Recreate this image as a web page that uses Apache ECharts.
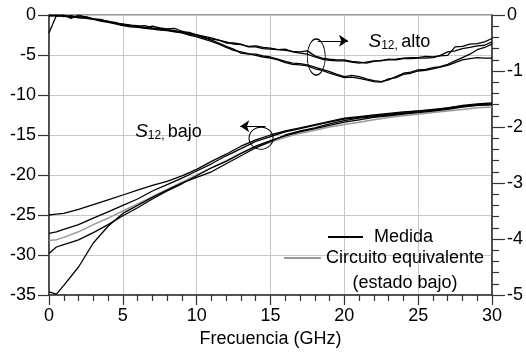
<!DOCTYPE html>
<html>
<head>
<meta charset="utf-8">
<script src="https://cdn.jsdelivr.net/npm/echarts@6/dist/echarts.min.js"></script>
<style>
  html, body { margin: 0; padding: 0; background: #fff; }
  #chart { width: 526px; height: 354px; }
</style>
</head>
<body>
<div id="chart"></div>
<script>
const FONT = "'Liberation Sans', Arial, sans-serif";

// frequency grids (GHz)
const freqLow = [0, 0.5, 1, 2, 3, 4, 5, 6, 7, 8, 9, 10, 11, 12, 13, 14, 15, 16, 17, 18, 19, 20, 21, 22, 23, 24, 25, 26, 27, 28, 29, 30];
const freqHigh = [0, 0.5, 1, 1.5, 2, 2.5, 3, 3.5, 4, 4.5, 5, 5.5, 6, 6.5, 7, 7.5, 8, 8.5, 9, 9.5, 10, 10.5, 11, 11.5, 12, 12.5, 13, 13.5, 14, 14.5, 15, 15.5, 16, 16.5, 17, 17.5, 18, 18.5, 19, 19.5, 20, 20.5, 21, 21.5, 22, 22.5, 23, 23.5, 24, 24.5, 25, 25.5, 26, 26.5, 27, 27.5, 28, 28.5, 29, 29.5, 30];

// S12 estado bajo, medidas (eje izquierdo, dB)
const bajo1 = [-25.0, -24.9, -24.8, -24.3, -23.7, -23.1, -22.5, -21.9, -21.3, -20.8, -20.1, -19.3, -18.3, -17.4, -16.4, -15.6, -15.0, -14.5, -14.1, -13.7, -13.3, -12.9, -12.7, -12.5, -12.3, -12.1, -12.0, -11.8, -11.6, -11.3, -11.1, -11.0];
const bajo2 = [-27.3, -27.1, -26.8, -26.2, -25.4, -24.6, -23.8, -23.0, -22.0, -21.2, -20.4, -19.5, -18.6, -17.6, -16.7, -15.8, -15.2, -14.6, -14.2, -13.8, -13.4, -13.0, -12.8, -12.6, -12.4, -12.2, -12.0, -11.9, -11.6, -11.4, -11.2, -11.1];
const bajo3 = [-29.8, -29.0, -28.7, -28.1, -27.2, -26.2, -25.1, -24.1, -23.0, -22.0, -21.1, -20.1, -19.1, -18.3, -17.3, -16.4, -15.7, -15.1, -14.6, -14.2, -13.8, -13.4, -13.1, -12.8, -12.6, -12.4, -12.2, -12.0, -11.8, -11.5, -11.3, -11.2];
const bajo4 = [-34.6, -34.9, -33.8, -31.5, -28.5, -26.4, -24.8, -23.8, -22.8, -21.9, -21.0, -20.3, -19.6, -18.6, -17.6, -16.6, -15.8, -15.0, -14.5, -14.1, -13.6, -13.2, -12.9, -12.7, -12.5, -12.3, -12.1, -11.9, -11.7, -11.4, -11.3, -11.2];
// circuito equivalente (estado bajo)
const circuito = [-28.2, -28.1, -27.8, -27.1, -26.2, -25.4, -24.5, -23.6, -22.7, -21.8, -20.9, -20.0, -19.1, -18.2, -17.3, -16.5, -15.9, -15.3, -14.8, -14.4, -14.0, -13.7, -13.4, -13.1, -12.8, -12.6, -12.4, -12.2, -12.0, -11.8, -11.6, -11.5];

// S12 estado alto, medidas (eje derecho, dB)
const alto1 = [0, -0.01, 0, -0.06, 0, -0.04, -0.07, -0.09, -0.11, -0.15, -0.16, -0.18, -0.19, -0.23, -0.2, -0.23, -0.25, -0.24, -0.29, -0.33, -0.35, -0.38, -0.41, -0.45, -0.48, -0.52, -0.53, -0.56, -0.55, -0.58, -0.59, -0.62, -0.63, -0.65, -0.66, -0.64, -0.73, -0.77, -0.79, -0.8, -0.8, -0.83, -0.84, -0.86, -0.83, -0.81, -0.8, -0.79, -0.77, -0.76, -0.76, -0.74, -0.75, -0.73, -0.72, -0.57, -0.56, -0.52, -0.51, -0.48, -0.42];
const alto2 = [-0.02, 0, -0.03, -0.01, -0.04, -0.03, -0.07, -0.08, -0.12, -0.13, -0.17, -0.19, -0.2, -0.19, -0.23, -0.24, -0.26, -0.28, -0.3, -0.31, -0.36, -0.4, -0.43, -0.45, -0.5, -0.5, -0.52, -0.57, -0.57, -0.6, -0.61, -0.62, -0.61, -0.66, -0.68, -0.7, -0.75, -0.79, -0.81, -0.82, -0.82, -0.84, -0.86, -0.84, -0.82, -0.82, -0.79, -0.8, -0.78, -0.78, -0.77, -0.77, -0.76, -0.72, -0.66, -0.64, -0.6, -0.58, -0.55, -0.54, -0.48];
const alto3 = [-0.32, -0.01, -0.02, -0.04, -0.03, -0.05, -0.07, -0.1, -0.12, -0.15, -0.18, -0.18, -0.21, -0.22, -0.24, -0.25, -0.27, -0.29, -0.31, -0.34, -0.37, -0.41, -0.45, -0.5, -0.56, -0.61, -0.68, -0.7, -0.7, -0.73, -0.75, -0.79, -0.83, -0.86, -0.87, -0.89, -0.93, -0.97, -1.01, -1.06, -1.1, -1.08, -1.1, -1.14, -1.17, -1.19, -1.16, -1.1, -1.04, -1.02, -0.98, -0.97, -0.94, -0.92, -0.88, -0.82, -0.76, -0.7, -0.62, -0.58, -0.52];
const alto4 = [-0.01, -0.02, -0.01, -0.03, -0.05, -0.06, -0.08, -0.11, -0.13, -0.16, -0.19, -0.21, -0.22, -0.24, -0.25, -0.27, -0.28, -0.3, -0.32, -0.36, -0.39, -0.43, -0.47, -0.52, -0.58, -0.63, -0.66, -0.69, -0.72, -0.75, -0.77, -0.8, -0.85, -0.88, -0.89, -0.91, -0.96, -0.99, -1.04, -1.08, -1.12, -1.11, -1.13, -1.16, -1.19, -1.2, -1.14, -1.12, -1.06, -1.04, -1.0, -0.99, -0.96, -0.93, -0.9, -0.85, -0.8, -0.78, -0.76, -0.77, -0.77];

const pairs = (xs, ys) => xs.map((x, i) => [x, ys[i]]);

const chart = echarts.init(document.getElementById("chart"));

const medida = (data, yAxisIndex, extra) => Object.assign({
  name: "Medida",
  type: "line",
  data,
  yAxisIndex,
  showSymbol: false,
  symbol: "none",
  lineStyle: { color: "#000", width: 1.3 },
  itemStyle: { color: "#000" },
  z: 5,
}, extra || {});

const subLabel = (word) => ({
  show: true,
  position: "right",
  distance: 0,
  formatter: "{i|S}{s|12,} {n|" + word + "}",
  rich: {
    i: { fontFamily: FONT, fontStyle: "italic", fontSize: 19, color: "#000", lineHeight: 22, verticalAlign: "bottom" },
    s: { fontFamily: FONT, fontSize: 12, color: "#000", lineHeight: 12, verticalAlign: "bottom" },
    n: { fontFamily: FONT, fontSize: 18, color: "#000", lineHeight: 22, verticalAlign: "bottom" },
  },
});

const annotation = (ellipse, arrow, textAt, word) => ({
  markPoint: {
    silent: true,
    animation: false,
    data: [
      {
        coord: ellipse.c,
        symbol: "circle",
        symbolSize: ellipse.size,
        itemStyle: { color: "rgba(0,0,0,0)", borderColor: "#000", borderWidth: 1 },
        label: { show: false },
      },
      {
        coord: textAt,
        symbol: "circle",
        symbolSize: 1,
        itemStyle: { color: "rgba(0,0,0,0)" },
        label: subLabel(word),
      },
    ],
  },
  markLine: {
    silent: true,
    animation: false,
    symbol: ["none", "arrow"],
    symbolSize: 9,
    label: { show: false },
    lineStyle: { color: "#000", width: 1, type: "solid" },
    data: [[{ coord: arrow[0] }, { coord: arrow[1] }]],
  },
});

const series = [
  medida(pairs(freqLow, bajo1), 0, annotation(
    { c: [14.36, -15.4], size: [24, 22] },
    [[14.66, -13.9], [12.95, -13.9]],
    [5.8, -14.4], "bajo")),
  medida(pairs(freqLow, bajo2), 0),
  medida(pairs(freqLow, bajo3), 0),
  medida(pairs(freqLow, bajo4), 0),
  {
    name: "Circuito equivalente (estado bajo)",
    type: "line",
    data: pairs(freqLow, circuito),
    yAxisIndex: 0,
    showSymbol: false,
    symbol: "none",
    lineStyle: { color: "#9a9a9a", width: 1.5 },
    itemStyle: { color: "#9a9a9a" },
    z: 4,
  },
  medida(pairs(freqHigh, alto1), 1, annotation(
    { c: [18.1, -0.75], size: [18, 36] },
    [[18.2, -0.46], [20.25, -0.46]],
    [21.6, -0.45], "alto")),
  medida(pairs(freqHigh, alto2), 1),
  medida(pairs(freqHigh, alto3), 1),
  medida(pairs(freqHigh, alto4), 1),
];

const axisText = { fontFamily: FONT, fontSize: 18, color: "#000" };
const axisLine = { show: true, onZero: false, lineStyle: { color: "#333", width: 1.5 } };

chart.setOption({
  animation: false,
  grid: {
    left: 49, right: 34, top: 15, bottom: 59,
    show: true, borderColor: "#333", borderWidth: 1,
  },
  legend: [
    {
      data: ["Medida"],
      right: 93, top: 228,
      padding: 0,
      icon: "rect",
      itemWidth: 35, itemHeight: 2,
      selectedMode: false,
      textStyle: { fontFamily: FONT, fontSize: 18, color: "#000", padding: [0, 0, 0, 6] },
    },
    {
      data: ["Circuito equivalente (estado bajo)"],
      right: 42, top: 249,
      padding: 0,
      icon: "rect",
      itemWidth: 37, itemHeight: 2,
      selectedMode: false,
      formatter: () => "{a|Circuito equivalente}\n{b|(estado bajo)}",
      textStyle: {
        fontFamily: FONT, fontSize: 18, color: "#000",
        padding: [25, 0, 0, 0],
        rich: {
          a: { fontFamily: FONT, fontSize: 18, color: "#000", lineHeight: 25 },
          b: { fontFamily: FONT, fontSize: 18, color: "#000", lineHeight: 25, align: "center" },
        },
      },
    },
  ],
  xAxis: {
    type: "value",
    min: 0, max: 30, interval: 5,
    name: "Frecuencia (GHz)",
    nameLocation: "middle",
    nameGap: 35,
    nameTextStyle: axisText,
    axisLine,
    axisTick: { show: true, inside: false, length: 10, lineStyle: { color: "#333", width: 1.2 } },
    minorTick: { show: true, splitNumber: 5, length: 6, lineStyle: { color: "#333", width: 1.2 } },
    axisLabel: Object.assign({ margin: 12 }, axisText),
    splitLine: { show: true, lineStyle: { color: "#c8c8c8", width: 1 } },
  },
  yAxis: [
    {
      type: "value",
      position: "left",
      min: -35, max: 0, interval: 5,
      axisLine,
      axisTick: { show: true, inside: false, length: 11, lineStyle: { color: "#333", width: 1.2 } },
      axisLabel: Object.assign({ margin: 13 }, axisText),
      splitLine: { show: true, lineStyle: { color: "#c8c8c8", width: 1 } },
    },
    {
      type: "value",
      position: "right",
      min: -5, max: 0, interval: 1,
      axisLine,
      axisTick: { show: true, inside: false, length: 13, lineStyle: { color: "#333", width: 1.2 } },
      minorTick: { show: true, splitNumber: 5, length: 7, lineStyle: { color: "#333", width: 1.2 } },
      axisLabel: Object.assign({ margin: 15 }, axisText),
      splitLine: { show: false },
    },
  ],
  series,
});

window.addEventListener("resize", () => chart.resize());
</script>
</body>
</html>
